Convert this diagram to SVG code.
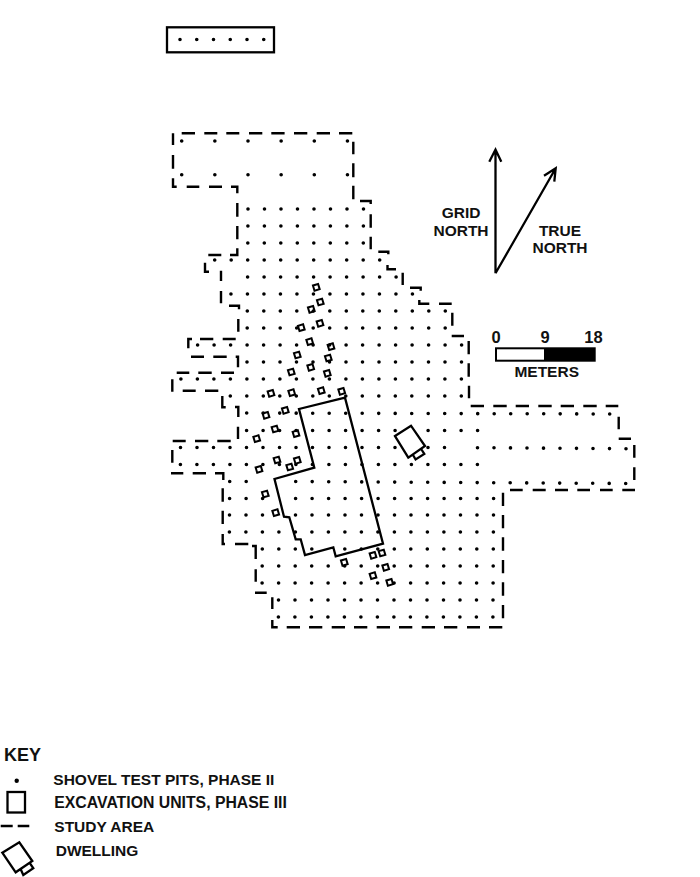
<svg xmlns="http://www.w3.org/2000/svg" width="700" height="877" viewBox="0 0 700 877">
<style>
text{font-family:"Liberation Sans",Arial,sans-serif;font-weight:bold;font-size:15.5px;fill:#111}
.ctr{text-anchor:middle}
.dots{fill:none;stroke:#000;stroke-width:3.6;stroke-linecap:round;stroke-dasharray:0 16.5}
.wide{stroke-dasharray:0 33.15}
.tbox{stroke-dasharray:0 16.75}
.dash{fill:none;stroke:#000;stroke-width:2.4}
.line{fill:none;stroke:#000;stroke-width:2.3}
.eu{fill:none;stroke:#000;stroke-width:2}
</style>
<defs>
<rect id="eu" class="eu" x="-2.7" y="-2.7" width="5.4" height="5.4" transform="rotate(-17)"/>
</defs>
<rect width="700" height="877" fill="#fff"/>
<g id="inset">
<rect class="line" x="167" y="27.3" width="107" height="25"/>
<path class="dots tbox" d="M180 39.5h83.9"/>
</g>
<g id="test-pits">
<path class="dots wide" d="M181.7 141h166M181.7 174.7h166"/>
<path class="dots" d="M248 209h115.6M247.9 226h115.6M247.8 243h115.6M214.7 260h165.1M247.6 277h148.6M230.95 294h181.6M247.3 311h198.1M247.2 328h198.1M197.6 345h264.1M247 362h214.6M180.9 379h280.6M230.3 396h231.1M246.7 413l363.1 1M246.6 430.5h148.6M428.1 430.5h49.6M180.5 447.5h214.6M428 447.5h16.6M477.5 447.7l148.6 1M180.4 464.5h297.1M229.7 481.5h16.6M295.7 481.5l330.1 2M229.6 498.5h33.1M295.6 498.5h198.1M229.5 515h33.1M295.5 515h198.1M229.4 532h264.1M262.3 549h49.6M344.8 549h148.6M262.2 566h231.1M262.1 583h231.1M278.5 600h214.6M278.4 617h214.6"/>
</g>
<g id="study-area">
<path class="dash" d="M181.7 133.3h13.3M204.3 133.3h13M226.3 133.3h13M249 133.3h13.3M271.3 133.3h13.3M294 133.3h13.3M316.7 133.3h13.3M339 133.3h13.3M173 133.3v11.7M173 155v13.7M173 178.3v8.4h3.7M186.7 186.7h12.6M209 186.7h13M231 186.7h6.3v6.6M237.3 203v13.7M237.3 226v13.3M237.3 248.3v6.7h-7.3M208.3 255h13M205 262.7v9h4M221 270.7v10.3M221 291v12.3M229 305.7h10v3.6M238.3 319v12.7M188.3 348.3v-9.3h3.7M200 339h13.3M222.7 339h13M191 356.7h13M213.3 356.7h13.4M235.7 356.7h2.3v10.6M176.7 372.7h12.6M198.3 372.7h13.4M221 372.7h13M172.3 379.3v12.4M182.7 390.7h13M205 390.7h13.3M222.3 396v11.3h3.4M235 407h3.3v10M238 426.7v12.3M172.7 441h13M195 441h13.3M217.3 441h13.4M172.3 450v12.7M171 473.3h12.3M192.7 473.3h13.3M215 473.3h8.3v6.7M222.7 488.3v13.4M222.7 510.7v13.3M222.7 534v10h2.3M235 544h13.3M252 546h3.7v13M255.7 569.3v12.4M255 592.7h11.7M272.3 597.3v11.7M272.3 620v7.3h5.4M286.7 627.3h13.3M309 627.3h13.3M331.7 627.3h13.3M354 627.3h13.3M376.7 627.3h13.3M399 627.3h13.3M421.7 627.3h13.3M444 627.3h13.3M467 627.3h13M489 627.3h13.3M503 605v13.3M503 582.3v13.4M503 560v13.3M503 537.3v13.4M503 515v13.3M503 492.7v13.3M510 490h12.7M532.7 490h13M555 490h13M577.3 490h12.7M600 490h12.7M622.3 490h12.7M634.3 467.3v12.7M634.3 445v12.7M618.7 438.7h12.3M618.7 416.7v12.6M470.7 406h13.3M493.3 406h13.4M515.7 406h13.3M538.3 406h13.4M560.7 406h13.3M583.3 406h13.4M605.7 406h12.6M469 385.7v12.6M468.7 363.3v13.4M468.7 341v13.3M451.7 336h12.3M452.3 312.7v13M439 303.7h12.7M419.3 300v3.7h10M410 287.7h10.7v3M402.7 272.7v12.3M387.5 265v4.3h8.5M378.3 251.7h10v2.6M370.7 236.7v12.6M370.7 214.3v13.4M360 201h10.7v3M353.3 185.7v13.6M353.3 163.3v14M353.3 141.7v12.6"/>
</g>
<g id="excavation-block">
<path class="line" d="M345 397.7L299 409L314.3 467.7L274.5 479L284 516.7L289.3 517.3L295.7 539.3L300.7 539.3L305 555L333.3 547.3L335.7 556.3L383 543.7Z"/>
</g>
<g id="excavation-units">
<use href="#eu" x="316.3" y="287.3"/><use href="#eu" x="320.3" y="302"/><use href="#eu" x="311.3" y="309.3"/><use href="#eu" x="301.3" y="327.7"/><use href="#eu" x="320" y="323.3"/><use href="#eu" x="309.7" y="341.7"/><use href="#eu" x="331" y="346.7"/><use href="#eu" x="297.3" y="355"/><use href="#eu" x="328.3" y="358"/><use href="#eu" x="310.7" y="367.3"/><use href="#eu" x="291.3" y="372"/><use href="#eu" x="327.3" y="373.3"/><use href="#eu" x="271" y="393.3"/><use href="#eu" x="291.7" y="392.7"/><use href="#eu" x="321.3" y="390.7"/><use href="#eu" x="341.7" y="391.3"/><use href="#eu" x="285.3" y="410.3"/><use href="#eu" x="266" y="415.3"/><use href="#eu" x="275" y="429"/><use href="#eu" x="296" y="433.7"/><use href="#eu" x="256.7" y="438.7"/><use href="#eu" x="277" y="460"/><use href="#eu" x="297.3" y="460.3"/><use href="#eu" x="289.7" y="467"/><use href="#eu" x="259" y="469.3"/><use href="#eu" x="265.3" y="494"/><use href="#eu" x="275.7" y="512.7"/><use href="#eu" x="344.3" y="562.3"/><use href="#eu" x="373" y="555.3"/><use href="#eu" x="382" y="553"/><use href="#eu" x="385.7" y="567.3"/><use href="#eu" x="373" y="575.7"/><use href="#eu" x="389.7" y="582.3"/>
</g>
<g id="dwelling">
<path class="line" d="M395 436L411 425.7L425 446L408.3 457.7ZM413.3 455.5L415.6 459.5L424.3 454L421.5 449.5"/>
</g>
<g id="north-arrows">
<path class="line" d="M495.5 273.3V149.5M489.3 161.7L495.5 149.5L501.3 161.7M495.5 273.3L555.7 168.3M544 175.7L555.7 168.3L554.3 181.7"/>
<text class="ctr" x="461" y="218.3">GRID</text>
<text class="ctr" x="461" y="236">NORTH</text>
<text class="ctr" x="560" y="235.7">TRUE</text>
<text class="ctr" x="560" y="253.3">NORTH</text>
</g>
<g id="scale">
<rect x="496" y="348.3" width="98.7" height="12.4" fill="#fff" stroke="#000" stroke-width="2"/>
<rect x="544" y="348.3" width="50.7" height="12.4" fill="#000"/>
<text class="ctr" x="496" y="343.3" style="font-size:16.5px">0</text>
<text class="ctr" x="545" y="343.3" style="font-size:16.5px">9</text>
<text class="ctr" x="593.5" y="343.3" style="font-size:16.5px">18</text>
<text class="ctr" x="546.7" y="377.3">METERS</text>
</g>
<g id="key">
<text x="4" y="760.7" style="font-size:18px">KEY</text>
<circle cx="16.7" cy="780.7" r="2.2"/>
<text x="53.3" y="785">SHOVEL TEST PITS, PHASE II</text>
<rect class="line" x="7.5" y="792" width="17.5" height="20.5"/>
<text x="54.3" y="808.3" style="font-size:15.8px">EXCAVATION UNITS, PHASE III</text>
<path class="dash" d="M0.7 826h12M17.7 826h11.6"/>
<text x="54.3" y="832.3">STUDY AREA</text>
<path class="line" d="M2.3 852.7L19.3 842.3L32.3 861L15.7 872.3ZM20.7 869.3L23.3 875L33.3 868.3L30 863.3"/>
<text x="55.7" y="856">DWELLING</text>
</g>
</svg>
